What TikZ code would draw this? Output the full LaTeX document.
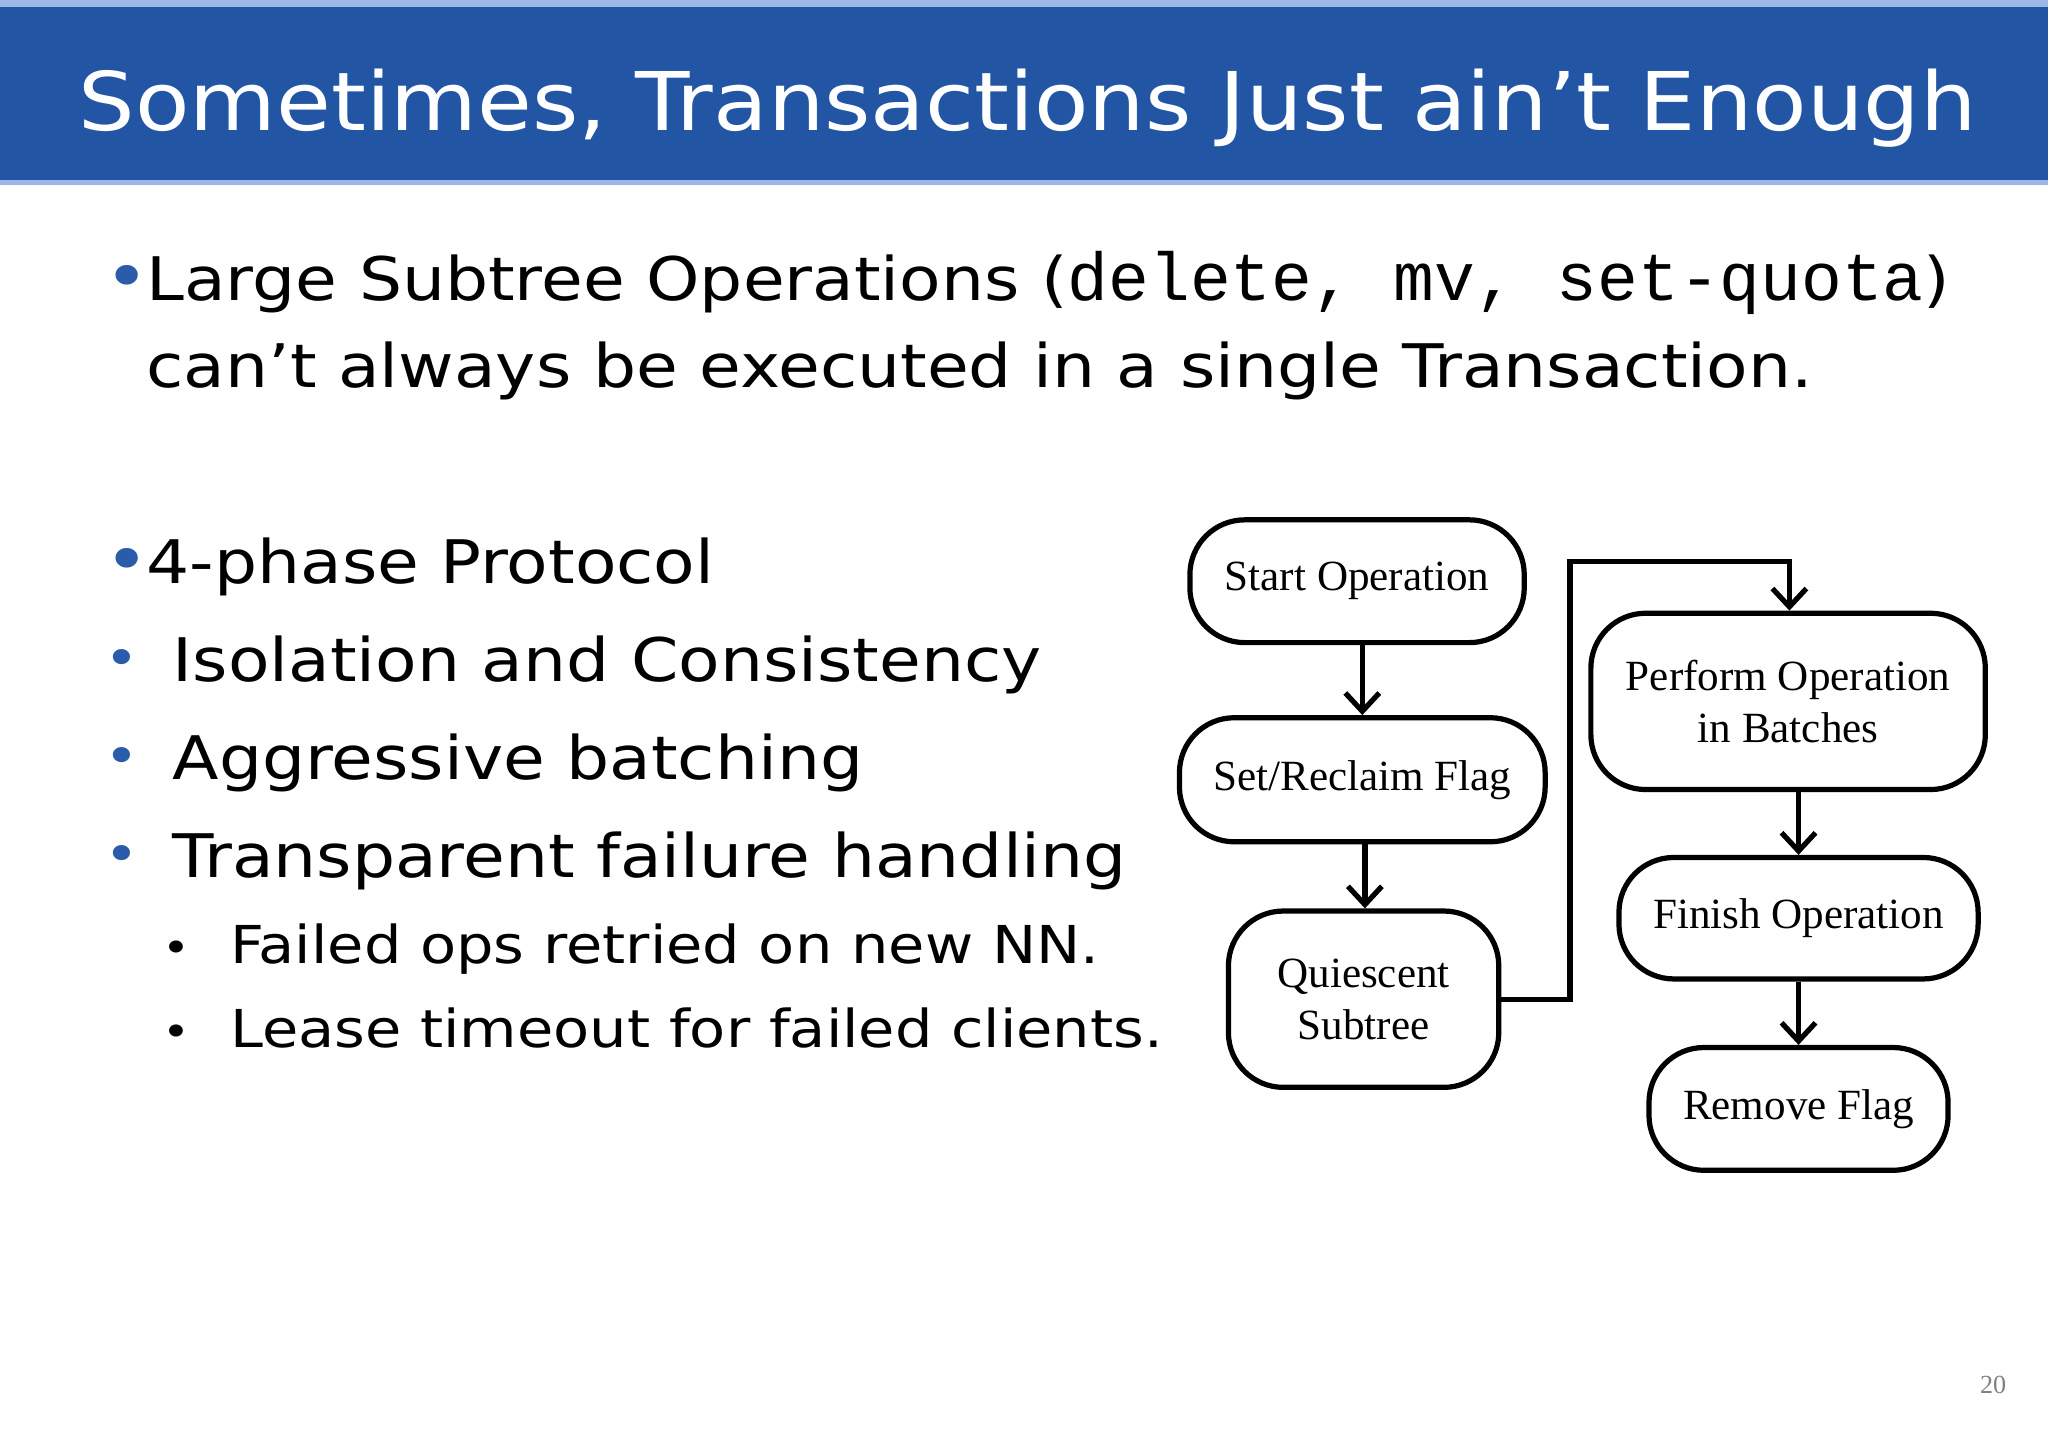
\documentclass[tikz,border=0pt]{standalone}
\usepackage{fontspec}
\setmainfont{DejaVu Sans}[FakeStretch=1.13]
\newfontfamily\titlef{DejaVu Sans}[FakeStretch=1.1]
\newfontfamily\serifx{Liberation Serif}
\newfontfamily\monox{Liberation Mono}
\usetikzlibrary{arrows.meta}
\definecolor{barblue}{HTML}{2255A4}
\definecolor{lightb}{HTML}{9DB8E8}
\definecolor{bul}{HTML}{2A5CAA}
\tikzset{
 fbox/.style={draw, line width=4pt, rounded corners=42pt, align=center, font=\serifx\fontsize{33}{40}\selectfont, inner sep=0pt},
 arr/.style={line width=4pt, -{Straight Barb[length=14pt,width=26pt,line width=4pt]}},
 txt/.style={anchor=base west, inner sep=0pt},
}
\begin{document}
\begin{tikzpicture}[x=1pt,y=-1pt]
\useasboundingbox (0,0) rectangle (1568,1108);
\fill[white] (0,0) rectangle (1568,1108);
\fill[lightb] (0,0) rectangle (1568,142);
\fill[barblue] (0,5) rectangle (1568,138);
\node[txt, text=white, font=\titlef\fontsize{62}{70}\selectfont] (title) at (60,100) {Sometimes, Transactions Just ain’t Enough};
\node[txt, font=\fontsize{46}{54}\selectfont] (b0) at (80,230) {\textcolor{bul}{\fontsize{52}{52}\selectfont •}};
\node[txt, font=\fontsize{46}{54}\selectfont] (l1) at (112,230) {Large Subtree Operations ({\monox\fontsize{52}{54}\selectfont delete, mv, set-quota})};
\node[txt, font=\fontsize{46}{54}\selectfont] (l2) at (112,297) {can’t always be executed in a single Transaction.};
\node[txt, font=\fontsize{46}{54}\selectfont] (b00) at (80,447) {\textcolor{bul}{\fontsize{52}{52}\selectfont •}};
\node[txt, font=\fontsize{46}{54}\selectfont] (l3) at (112,447) {4-phase Protocol};
\node[txt, font=\fontsize{40}{40}\selectfont, text=bul] (b1) at (80,518) {•};
\node[txt, font=\fontsize{46}{54}\selectfont] (s1) at (132,522) {Isolation and Consistency};
\node[txt, font=\fontsize{40}{40}\selectfont, text=bul] (b2) at (80,593) {•};
\node[txt, font=\fontsize{46}{54}\selectfont] (s2) at (132,597) {Aggressive batching};
\node[txt, font=\fontsize{46}{54}\selectfont] (s3) at (132,672) {Transparent failure handling};
\node[txt, font=\fontsize{40}{40}\selectfont, text=bul] (b3) at (80,668) {•};
\node[txt, font=\fontsize{32}{32}\selectfont] (b4) at (124,737) {•};
\node[txt, font=\fontsize{40}{46}\selectfont] (t1) at (176,738) {Failed ops retried on new NN.};
\node[txt, font=\fontsize{32}{32}\selectfont] (b5) at (124,801) {•};
\node[txt, font=\fontsize{40}{46}\selectfont] (t2) at (176,802) {Lease timeout for failed clients.};

\node[fbox, minimum width=256pt, minimum height=94pt] (start) at (1039,445) {Start Operation};
\node[fbox, minimum width=280pt, minimum height=95pt] (flag) at (1043,597) {Set/Reclaim Flag};
\node[fbox, minimum width=207pt, minimum height=135pt] (quiet) at (1044,765) {Quiescent\\Subtree};
\node[fbox, minimum width=302pt, minimum height=135pt] (perf) at (1369,537) {Perform Operation\\in Batches};
\node[fbox, minimum width=275pt, minimum height=93pt] (fin) at (1377,703) {Finish Operation};
\node[fbox, minimum width=229pt, minimum height=94pt] (rem) at (1377,849) {Remove Flag};
\draw[arr] (start.south -| 1043,0) -- (flag.north -| 1043,0);
\draw[arr] (flag.south -| 1045,0) -- (quiet.north -| 1045,0);
\draw[arr] (quiet.east) -- (1202,765) -- (1202,430) -- (1370,430) -- (perf.north -| 1370,0);
\draw[arr] (perf.south -| 1377,0) -- (fin.north);
\draw[arr] (fin.south) -- (rem.north);
\node[font=\serifx\fontsize{20}{20}\selectfont, text=gray] (pg) at (1526,1060) {20};
\end{tikzpicture}
\end{document}
